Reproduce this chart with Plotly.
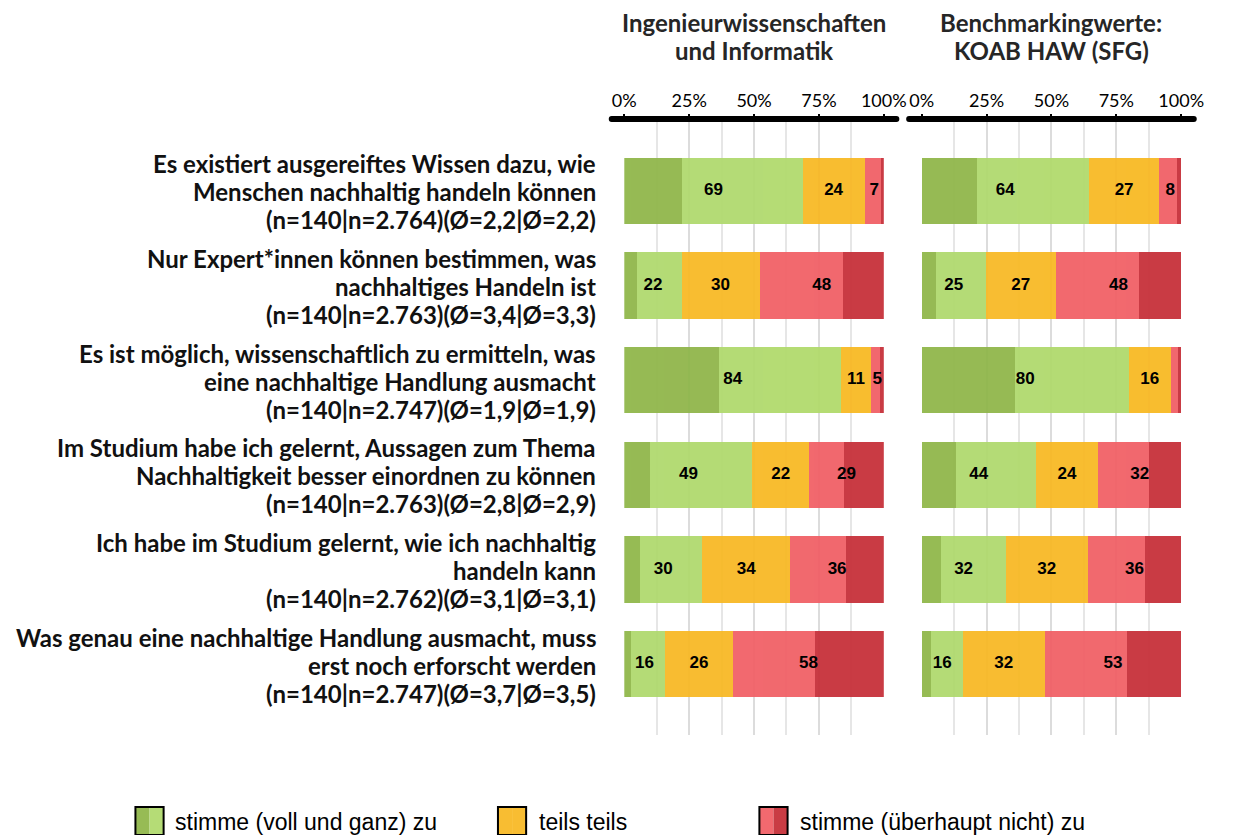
import plotly.graph_objects as go

# Statements (row order top to bottom), one list entry per printed line
statements = [
    ["Es existiert ausgereiftes Wissen dazu, wie", "Menschen nachhaltig handeln können", "(n=140|n=2.764)(Ø=2,2|Ø=2,2)"],
    ["Nur Expert*innen können bestimmen, was", "nachhaltiges Handeln ist", "(n=140|n=2.763)(Ø=3,4|Ø=3,3)"],
    ["Es ist möglich, wissenschaftlich zu ermitteln, was", "eine nachhaltige Handlung ausmacht", "(n=140|n=2.747)(Ø=1,9|Ø=1,9)"],
    ["Im Studium habe ich gelernt, Aussagen zum Thema", "Nachhaltigkeit besser einordnen zu können", "(n=140|n=2.763)(Ø=2,8|Ø=2,9)"],
    ["Ich habe im Studium gelernt, wie ich nachhaltig", "handeln kann", "(n=140|n=2.762)(Ø=3,1|Ø=3,1)"],
    ["Was genau eine nachhaltige Handlung ausmacht, muss", "erst noch erforscht werden", "(n=140|n=2.747)(Ø=3,7|Ø=3,5)"],
]

panel_titles = [["Ingenieurwissenschaften", "und Informatik"], ["Benchmarkingwerte:", "KOAB HAW (SFG)"]]

# Shares in percent: voll und ganz zu, zu, teils teils, nicht zu, überhaupt nicht zu
ing_full_agree = [22.2, 5.0, 36.5, 10.0, 5.9, 2.7]
ing_agree = [46.5, 17.1, 47.1, 39.4, 24.1, 12.9]
ing_neutral = [23.9, 30.0, 11.3, 21.8, 34.0, 26.4]
ing_disagree = [6.4, 32.3, 3.7, 13.4, 21.5, 31.4]
ing_full_disagree = [1.0, 15.6, 1.4, 15.4, 14.5, 26.6]

koab_full_agree = [21.2, 5.6, 35.9, 13.1, 7.5, 3.7]
koab_agree = [43.2, 19.1, 43.9, 30.8, 24.8, 12.1]
koab_neutral = [27.2, 27.0, 16.1, 24.2, 31.7, 31.6]
koab_disagree = [6.9, 32.1, 2.9, 19.4, 22.0, 31.6]
koab_full_disagree = [1.5, 16.2, 1.2, 12.5, 14.0, 21.0]

tick_values = [0, 25, 50, 75, 100]
tick_labels = ["0%", "25%", "50%", "75%", "100%"]
legend_labels = ["stimme (voll und ganz) zu", "teils teils", "stimme (überhaupt nicht) zu"]

colors = ["#8FB648", "#AFD96C", "#F8B822", "#F15E64", "#C52D36"]
BAR_OPACITY = 0.93

W, H = 1246, 835
PLOT_TOP, PLOT_BOTTOM = 120, 735
Y_RANGE = (5.75, -0.75)
domains = [(630 / W, 897 / W), (936 / W, 1203 / W)]
y_dom = (1 - PLOT_BOTTOM / H, 1 - PLOT_TOP / H)
row_px = (PLOT_BOTTOM - PLOT_TOP) / (Y_RANGE[0] - Y_RANGE[1])

panels = [
    [ing_full_agree, ing_agree, ing_neutral, ing_disagree, ing_full_disagree],
    [koab_full_agree, koab_agree, koab_neutral, koab_disagree, koab_full_disagree],
]

rows = list(range(len(statements)))
fig = go.Figure()


def rnd(v):
    return int(v + 0.5)


for p, series in enumerate(panels):
    xa = "x" if p == 0 else "x2"
    ya = "y" if p == 0 else "y2"
    for s, vals in enumerate(series):
        fig.add_trace(go.Bar(
            x=vals, y=rows, orientation="h", xaxis=xa, yaxis=ya,
            marker=dict(color=colors[s], line=dict(width=0)),
            opacity=BAR_OPACITY, showlegend=False, hoverinfo="skip",
        ))
    # grouped value labels: agree total, neutral, disagree total
    fa, a, n, d, fd = series
    lx, ly, lt = [], [], []
    for i in rows:
        green = fa[i] + a[i]
        red = d[i] + fd[i]
        groups = [(0, green), (green, n[i]), (green + n[i], red)]
        for start, width in groups:
            if rnd(width) >= 5:
                lx.append(start + width / 2)
                ly.append(i)
                lt.append(str(rnd(width)))
    fig.add_trace(go.Scatter(
        x=lx, y=ly, text=lt, mode="text", xaxis=xa, yaxis=ya,
        textfont=dict(family="Liberation Sans", size=17, color="#000000", weight="bold"),
        textposition="middle center", showlegend=False, hoverinfo="skip",
    ))

axis_common = dict(
    range=[0, 100], side="top", tickvals=tick_values, ticktext=tick_labels,
    tickfont=dict(family="Lato", size=18, color="#000000"),
    ticks="outside", ticklen=5, tickwidth=2, tickcolor="#000000",
    showgrid=True, gridcolor="#dcdcdc", gridwidth=2,
    minor=dict(dtick=12.5, showgrid=True, gridcolor="#e6e6e6", gridwidth=2),
    zeroline=False, showline=False, fixedrange=True,
)
yaxis_common = dict(
    range=list(Y_RANGE), domain=list(y_dom), showticklabels=False,
    showgrid=False, zeroline=False, fixedrange=True,
)

fig.update_layout(
    width=W, height=H, autosize=False,
    margin=dict(l=0, r=0, t=0, b=0),
    paper_bgcolor="white", plot_bgcolor="white",
    barmode="stack", bargap=0.30,
    xaxis=dict(domain=list(domains[0]), anchor="y", **axis_common),
    xaxis2=dict(domain=list(domains[1]), anchor="y2", **axis_common),
    yaxis=dict(anchor="x", **yaxis_common),
    yaxis2=dict(anchor="x2", **yaxis_common),
    showlegend=False,
)

shapes = []
annotations = []

# thick axis bar (with rounded ends) across the top of each panel, plus two-line titles
AXIS_PX, AXIS_W = 119, 6
axis_y = 1 - AXIS_PX / H
cap_r = AXIS_W / 2
for p, (d0, d1) in enumerate(domains):
    ext = 13 / W
    x_left, x_right = d0 - ext, d1 + ext
    shapes.append(dict(type="line", xref="paper", yref="paper",
                       x0=x_left, x1=x_right, y0=axis_y, y1=axis_y,
                       line=dict(color="#000000", width=AXIS_W)))
    for xc in (x_left, x_right):
        shapes.append(dict(type="circle", xref="paper", yref="paper",
                           x0=xc - cap_r / W, x1=xc + cap_r / W,
                           y0=axis_y - cap_r / H, y1=axis_y + cap_r / H,
                           fillcolor="#000000", line=dict(width=0)))
    for k, line in enumerate(panel_titles[p]):
        annotations.append(dict(
            text="<b>" + line + "</b>", xref="paper", yref="paper",
            x=(d0 + d1) / 2, y=1 - (22 + 28 * k) / H,
            xanchor="center", yanchor="middle", showarrow=False,
            font=dict(family="Lato", size=24, color="#262626"),
        ))

# statement labels, right-aligned beside the bars
line_offsets_px = [-27, 1, 29]
for i, lines in enumerate(statements):
    for k, line in enumerate(lines):
        annotations.append(dict(
            text="<b>" + line + "</b>", xref="paper", yref="y",
            x=603 / W, y=i + line_offsets_px[k] / row_px,
            xanchor="right", yanchor="middle", showarrow=False,
            font=dict(family="Lato", size=24, color="#111111"),
        ))

# legend
legend_items = [
    (127, [colors[0], colors[1]], legend_labels[0], 166),
    (500, [colors[2], colors[2]], legend_labels[1], 540),
    (769, [colors[3], colors[4]], legend_labels[2], 809),
]
box_w, box_top, box_bot = 29, 807, 835
for x0, cols, label, tx in legend_items:
    half = box_w / 2
    for k, c in enumerate(cols):
        shapes.append(dict(type="rect", xref="paper", yref="paper",
                           x0=(x0 + k * half) / W, x1=(x0 + (k + 1) * half) / W,
                           y0=1 - box_bot / H, y1=1 - box_top / H,
                           fillcolor=c, opacity=BAR_OPACITY, line=dict(width=0)))
    shapes.append(dict(type="rect", xref="paper", yref="paper",
                       x0=x0 / W, x1=(x0 + box_w) / W,
                       y0=1 - box_bot / H, y1=1 - box_top / H,
                       line=dict(color="#000000", width=2)))
    annotations.append(dict(
        text=label, xref="paper", yref="paper", x=tx / W, y=1 - 822 / H,
        xanchor="left", yanchor="middle", showarrow=False,
        font=dict(family="Liberation Sans", size=23, color="#000000"),
    ))

fig.update_layout(shapes=shapes, annotations=annotations)

page_fix = (
    "document.documentElement.style.overflow='hidden';"
    "document.body.style.margin='0';document.body.style.overflow='hidden';"
    "Plotly.relayout('{plot_id}', {width: %d, height: %d});" % (W, H)
)
fig.write_html("out.html", config={"responsive": False}, post_script=page_fix)
